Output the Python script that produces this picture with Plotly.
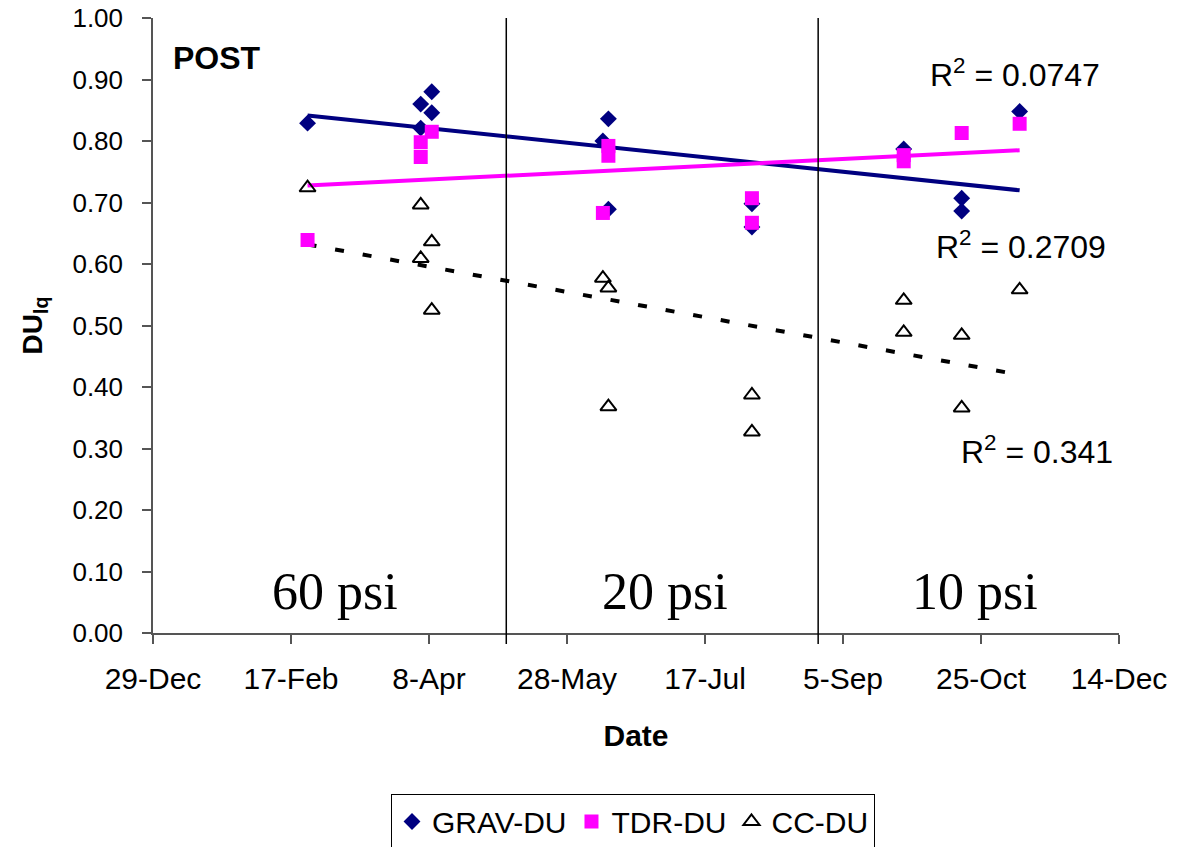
import numpy as np
import pandas as pd
import plotly.graph_objects as go

# ---------------- data ----------------
grav_dates = ["2005-02-23", "2005-04-05", "2005-04-05", "2005-04-09", "2005-04-09",
              "2005-06-10", "2005-06-12", "2005-06-12", "2005-08-03", "2005-08-03",
              "2005-09-27", "2005-10-18", "2005-10-18", "2005-11-08"]
grav_vals = [0.829, 0.860, 0.821, 0.880, 0.846,
             0.800, 0.836, 0.689, 0.698, 0.660,
             0.787, 0.707, 0.686, 0.848]

tdr_dates = ["2005-02-23", "2005-04-05", "2005-04-05", "2005-04-09",
             "2005-06-10", "2005-06-12", "2005-06-12", "2005-08-03", "2005-08-03",
             "2005-09-27", "2005-09-27", "2005-10-18", "2005-11-08"]
tdr_vals = [0.639, 0.798, 0.774, 0.815,
            0.683, 0.792, 0.776, 0.707, 0.667,
            0.777, 0.767, 0.813, 0.828]

cc_dates = ["2005-02-23", "2005-04-05", "2005-04-05", "2005-04-09", "2005-04-09",
            "2005-06-10", "2005-06-12", "2005-06-12", "2005-08-03", "2005-08-03",
            "2005-09-27", "2005-09-27", "2005-10-18", "2005-10-18", "2005-11-08"]
cc_vals = [0.724, 0.696, 0.609, 0.636, 0.525,
           0.577, 0.561, 0.368, 0.387, 0.327,
           0.541, 0.489, 0.484, 0.366, 0.558]

r2_labels = ["R<sup>2</sup> = 0.0747", "R<sup>2</sup> = 0.2709", "R<sup>2</sup> = 0.341"]
pressure_labels = ["60 psi", "20 psi", "10 psi"]
divider_dates = ["2005-05-06", "2005-08-27"]

tick_dates = ["2004-12-29", "2005-02-17", "2005-04-08", "2005-05-28",
              "2005-07-17", "2005-09-05", "2005-10-25", "2005-12-14"]
tick_labels = ["29-Dec", "17-Feb", "8-Apr", "28-May", "17-Jul", "5-Sep", "25-Oct", "14-Dec"]
y_ticks = [0.0, 0.1, 0.2, 0.3, 0.4, 0.5, 0.6, 0.7, 0.8, 0.9, 1.0]

NAVY = "#000080"
MAG = "#FF00FF"
FONT = "Liberation Sans, Arial, sans-serif"


def trend(dates, vals):
    d = pd.to_datetime(pd.Series(dates))
    t = (d - pd.Timestamp("2004-12-29")).dt.days.to_numpy(dtype=float)
    m, b = np.polyfit(t, np.array(vals), 1)
    tx = np.array([t.min(), t.max()])
    xs = [pd.Timestamp("2004-12-29") + pd.Timedelta(days=float(v)) for v in tx]
    return xs, m * tx + b


fig = go.Figure()

# trend lines
for dates, vals, col, dash in [(grav_dates, grav_vals, NAVY, "solid"),
                               (tdr_dates, tdr_vals, MAG, "solid"),
                               (cc_dates, cc_vals, "black", "9px,19px")]:
    xs, ys = trend(dates, vals)
    fig.add_trace(go.Scatter(x=xs, y=ys, mode="lines", showlegend=False,
                             line=dict(color=col, width=4, dash=dash), hoverinfo="skip"))

fig.add_trace(go.Scatter(x=grav_dates, y=grav_vals, mode="markers", name="GRAV-DU",
                         marker=dict(symbol="diamond", size=13, color=NAVY)))
fig.add_trace(go.Scatter(x=tdr_dates, y=tdr_vals, mode="markers", name="TDR-DU",
                         marker=dict(symbol="square", size=14, color=MAG)))
fig.add_trace(go.Scatter(x=cc_dates, y=cc_vals, mode="markers", name="CC-DU",
                         marker=dict(symbol="triangle-up-open", size=14, color="black",
                                     line=dict(width=2, color="black"))))

for d in divider_dates:
    fig.add_shape(type="line", x0=d, x1=d, xref="x", yref="paper", y0=-0.018, y1=1,
                  line=dict(color="black", width=1.5))

# R2 annotations
for txt, xr, yr in zip(r2_labels, [0.982, 0.989, 0.996], [0.911, 0.631, 0.298]):
    fig.add_annotation(text=txt, xref="paper", yref="paper", x=xr, y=yr,
                       xanchor="right", yanchor="middle", showarrow=False,
                       font=dict(family=FONT, size=32, color="black"))

for txt, xr in zip(pressure_labels, [0.188, 0.530, 0.851]):
    fig.add_annotation(text=txt, xref="paper", yref="paper", x=xr, y=0.068,
                       xanchor="center", yanchor="middle", showarrow=False,
                       font=dict(family="Liberation Serif, Times New Roman, serif", size=52, color="black"))

fig.add_annotation(text="<b>POST</b>", xref="paper", yref="paper", x=0.019, y=0.935,
                   xanchor="left", yanchor="middle", showarrow=False,
                   font=dict(family=FONT, size=32, color="black"))

fig.update_layout(
    width=1181, height=847,
    margin=dict(l=153, r=62, t=18, b=214),
    plot_bgcolor="white", paper_bgcolor="white",
    font=dict(family=FONT, color="black"),
    legend=dict(orientation="h", xref="container", yref="container",
                x=0.536, xanchor="center", y=0.062, yanchor="top",
                bordercolor="black", borderwidth=1, bgcolor="white",
                font=dict(family=FONT, size=30, color="black"), itemwidth=30),
    xaxis=dict(range=["2004-12-29", "2005-12-14"], tickvals=tick_dates, ticktext=tick_labels,
               automargin=False, ticklabeloverflow="allow",
               showgrid=False, zeroline=False, showline=True, linecolor="#555555", linewidth=1.5,
               ticks="outside", ticklen=9, tickcolor="#555555", tickwidth=1.5,
               ticklabelstandoff=9,
               tickfont=dict(family=FONT, size=30, color="black"),
               title=dict(text="<b>Date</b>", font=dict(family=FONT, size=30, color="black"), standoff=31)),
    yaxis=dict(range=[0, 1], tickvals=y_ticks, tickformat=".2f",
               automargin=False, ticklabeloverflow="allow",
               showgrid=False, zeroline=False, showline=True, linecolor="#555555", linewidth=1.5,
               ticks="outside", ticklen=9, tickcolor="#555555", tickwidth=1.5,
               ticklabelstandoff=14,
               tickfont=dict(family=FONT, size=26, color="black"),
               title=dict(text="<b>DU<sub>lq</sub></b>", font=dict(family=FONT, size=28, color="black"), standoff=22)),
)

fig.write_html("out.html", config={"displayModeBar": False},
               post_script="document.body.style.margin='0';document.body.style.overflow='hidden';")
